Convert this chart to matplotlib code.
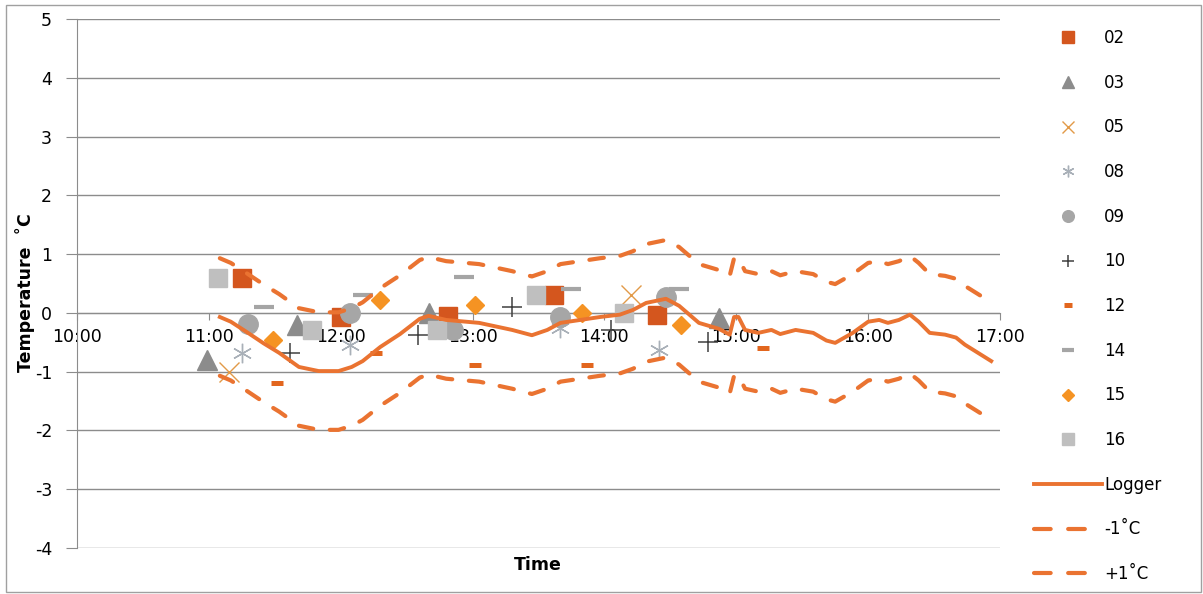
import matplotlib
matplotlib.use("Agg")
import matplotlib.pyplot as plt
from matplotlib.patches import Rectangle

plt.rcParams['font.family'] = ['DejaVu Sans']
plt.rcParams['axes.unicode_minus'] = False


def hrs(s):
    h, m = s.split(":")
    return int(h) + int(m) / 60


# logger trace (time, temperature)
logger_time = ["11:05", "11:10", "11:17", "11:25", "11:32", "11:41", "11:50", "11:59",
               "12:05", "12:10", "12:18", "12:27", "12:36", "12:40", "12:48", "13:03",
               "13:18", "13:27", "13:34", "13:40", "13:49", "13:58", "14:07", "14:13",
               "14:19", "14:28", "14:34", "14:43", "14:52", "14:57", "14:59", "15:01",
               "15:04", "15:10", "15:16", "15:20", "15:27", "15:35", "15:41", "15:45",
               "15:53", "16:00", "16:05", "16:09", "16:14", "16:19", "16:23", "16:28",
               "16:35", "16:40", "16:44", "16:50", "16:56"]
logger_temp = [-0.07, -0.15, -0.32, -0.52, -0.68, -0.92, -0.99, -0.99,
               -0.92, -0.82, -0.58, -0.36, -0.10, -0.05, -0.12, -0.17,
               -0.29, -0.38, -0.29, -0.17, -0.12, -0.07, -0.03, 0.05,
               0.17, 0.24, 0.12, -0.17, -0.27, -0.37, -0.07, -0.07,
               -0.29, -0.34, -0.29, -0.36, -0.29, -0.34, -0.47, -0.51,
               -0.34, -0.15, -0.12, -0.17, -0.12, -0.03, -0.15, -0.34,
               -0.37, -0.42, -0.54, -0.68, -0.82]

# thermometer readings: times and temps per unit
t02 = ["11:15", "12:00", "12:49", "13:37", "14:24"]
v02 = [0.60, -0.07, -0.06, 0.30, -0.04]
t03 = ["10:59", "11:40", "12:40", "14:52"]
v03 = [-0.80, -0.20, 0.00, -0.08]
t05 = ["11:09", "14:12"]
v05 = [-1.00, 0.30]
t08 = ["11:15", "12:04", "13:40", "14:25"]
v08 = [-0.68, -0.55, -0.25, -0.63]
t09 = ["11:18", "12:04", "12:51", "13:40", "14:28"]
v09 = [-0.19, 0.00, -0.29, -0.07, 0.27]
t10 = ["11:37", "12:35", "13:18", "14:03", "14:47"]
v10 = [-0.68, -0.37, 0.10, -0.29, -0.49]
t12 = ["11:31", "12:16", "13:01", "13:52", "15:12"]
v12 = [-1.19, -0.68, -0.88, -0.88, -0.60]
t14 = ["11:25", "12:10", "12:56", "13:45", "14:34"]
v14 = [0.10, 0.30, 0.61, 0.41, 0.41]
t15 = ["11:29", "12:18", "13:01", "13:50", "14:35"]
v15 = [-0.46, 0.22, 0.13, 0.00, -0.20]
t16 = ["11:04", "11:47", "12:44", "13:29", "14:09"]
v16 = [0.60, -0.29, -0.29, 0.30, 0.00]

x_ticks = ["10:00", "11:00", "12:00", "13:00", "14:00", "15:00", "16:00", "17:00"]
y_ticks = [-4, -3, -2, -1, 0, 1, 2, 3, 4, 5]

fig = plt.figure(figsize=(12.03, 5.94), dpi=100)
ax = fig.add_axes([77 / 1203, 1 - 548 / 594, (1000 - 77) / 1203, (548 - 19) / 594])

grid_c = "#8c8c8c"
styles = [
    ("02", t02, v02, dict(marker="s", ms=13.5, mfc="#d4561e", mec="#d4561e")),
    ("03", t03, v03, dict(marker="^", ms=14, mfc="#8c8c8c", mec="#8c8c8c")),
    ("05", t05, v05, dict(marker="x", ms=14, mec="#e29a48", mew=1.0)),
    ("08", t08, v08, dict(marker=(6, 2, 0), ms=14, mec="#a9b0b8", mew=1.0)),
    ("09", t09, v09, dict(marker="o", ms=14, mfc="#a6a6a6", mec="#a6a6a6")),
    ("10", t10, v10, dict(marker="+", ms=14, mec="#404040", mew=1.1)),
    ("12", t12, v12, dict(marker="_", ms=8.5, mec="#e2661e", mew=3.6)),
    ("14", t14, v14, dict(marker="_", ms=15, mec="#a5a5a5", mew=3.0)),
    ("15", t15, v15, dict(marker="D", ms=9.5, mfc="#f59323", mec="#f59323")),
    ("16", t16, v16, dict(marker="s", ms=13.5, mfc="#bfbfbf", mec="#bfbfbf")),
]
for name, tt, vv, st in styles:
    ax.plot([hrs(s) for s in tt], vv, ls="none", label=name, zorder=3, **st)

lx = [hrs(s) for s in logger_time]
line_c = "#ea7331"
dash = (0, (3.5, 4.0))
ax.plot(lx, logger_temp, color=line_c, lw=2.8, label="Logger", zorder=4)
ax.plot(lx, [v - 1 for v in logger_temp], color=line_c, lw=3, ls=dash,
        dash_capstyle="round", label="-1\u02daC", zorder=4)
ax.plot(lx, [v + 1 for v in logger_temp], color=line_c, lw=3, ls=dash,
        dash_capstyle="round", label="+1\u02daC", zorder=4)

ax.set_xlim(10, 17)
ax.set_ylim(-4, 5)
ax.set_xticks([hrs(s) for s in x_ticks])
ax.set_xticklabels(x_ticks)
ax.set_yticks(y_ticks)
ax.set_yticklabels([str(v) for v in y_ticks])
ax.yaxis.grid(True, color=grid_c, lw=1)
ax.set_axisbelow(True)

for s in ["top", "right"]:
    ax.spines[s].set_visible(False)
ax.spines["bottom"].set_position(("data", 0))
ax.spines["bottom"].set_color(grid_c)
ax.spines["left"].set_color(grid_c)
ax.tick_params(axis="x", length=5, color=grid_c, pad=6, labelsize=12.5)
ax.tick_params(axis="y", length=8, color=grid_c, pad=10, labelsize=12.5)

fig.text(25 / 1203, 1 - 293 / 594, "Temperature  \u02daC", rotation=90, fontsize=12.5,
         fontweight="bold", ha="center", va="center")
fig.text(538 / 1203, 1 - 565 / 594, "Time", fontsize=12.5, fontweight="bold",
         ha="center", va="center")

leg = ax.legend(loc="upper left", bbox_to_anchor=(1034 / 1203, 1 - 29 / 594),
                bbox_transform=fig.transFigure, frameon=False, fontsize=12,
                markerscale=0.6, handlelength=4.1, handletextpad=0.1,
                labelspacing=1.6, borderpad=0, borderaxespad=0)
# two dashes per legend handle, like the original
for h in leg.get_lines()[-2:]:
    h.set_linestyle((0, (4.0, 4.2)))

fig.patches.append(Rectangle((6 / 1203, 2 / 594), 1 - 8 / 1203, 1 - 7 / 594,
                             transform=fig.transFigure, fill=False,
                             ec="#a0a0a0", lw=1))

fig.savefig("out.png", dpi=100)
